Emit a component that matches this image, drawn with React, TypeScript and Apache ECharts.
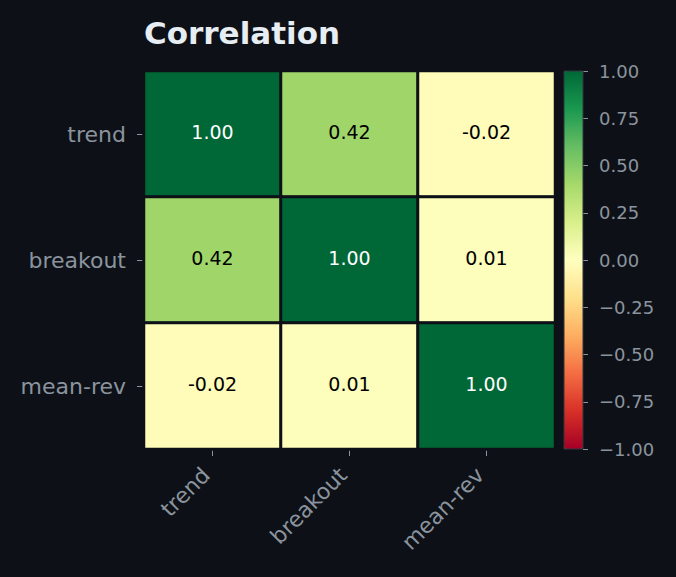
import React, { useEffect, useRef } from "react";
import * as echarts from "echarts";

const strategies = ["trend", "breakout", "mean-rev"];
const corrTrend = [1.0, 0.42, -0.02];
const corrBreakout = [0.42, 1.0, 0.01];
const corrMeanRev = [-0.02, 0.01, 1.0];
const colorbarMin = -1;
const colorbarMax = 1;
const colorbarStep = 0.25;
const rdYlGn = [
  "#a50026", "#d73027", "#f46d43", "#fdae61", "#fee08b", "#ffffbf",
  "#d9ef8b", "#a6d96a", "#66bd63", "#1a9850", "#006837",
];

const BG = "#0d1117";
const FONT = "DejaVu Sans";

export default function App() {
  const ref = useRef<HTMLDivElement>(null);
  useEffect(() => {
    if (!ref.current) return;
    const chart = echarts.init(ref.current, undefined, { renderer: "svg" });
    const rows = [corrTrend, corrBreakout, corrMeanRev];
    const data: any[] = [];
    rows.forEach((row, yi) => {
      row.forEach((v, xi) => {
        data.push({
          value: [xi, yi, v],
          label: { color: Math.abs(v) > 0.6 ? "#ffffff" : "#000000" },
        });
      });
    });
    chart.setOption({
      animation: false,
      backgroundColor: BG,
      textStyle: { fontFamily: FONT },
      title: {
        text: "Correlation",
        left: 144,
        top: 17,
        padding: 0,
        textStyle: { color: "#e6edf3", fontSize: 31, fontWeight: "bold", fontFamily: FONT },
      },
      grid: [
        { left: 144, top: 71, width: 411, height: 378, show: false },
        { left: 564, top: 71, width: 19, height: 378, show: true, borderColor: "#30363d", borderWidth: 1, backgroundColor: "transparent", z: 5 },
      ],
      xAxis: [
        {
          type: "category",
          gridIndex: 0,
          data: strategies,
          axisLine: { show: true, lineStyle: { color: "#30363d", width: 1 } },
          axisTick: { show: true, alignWithLabel: true, length: 7, lineStyle: { color: "#8b949e" } },
          axisLabel: { rotate: 45, fontSize: 22, color: "#8b949e", margin: 16, padding: [0, 9, 0, 0], fontFamily: FONT },
          splitLine: { show: false },
        },
        { type: "category", gridIndex: 1, data: [""], show: false },
      ],
      yAxis: [
        {
          type: "category",
          gridIndex: 0,
          data: strategies,
          inverse: true,
          axisLine: { show: true, lineStyle: { color: "#30363d", width: 1 } },
          axisTick: { show: true, alignWithLabel: true, length: 7, lineStyle: { color: "#8b949e" } },
          axisLabel: { fontSize: 22, color: "#8b949e", margin: 18, fontFamily: FONT },
          splitLine: { show: false },
        },
        {
          type: "value",
          gridIndex: 1,
          position: "right",
          min: colorbarMin,
          max: colorbarMax,
          interval: colorbarStep,
          axisLine: { show: false },
          axisTick: { show: true, length: 5, lineStyle: { color: "#8b949e" } },
          axisLabel: {
            fontSize: 18,
            color: "#8b949e",
            margin: 16,
            fontFamily: FONT,
            formatter: (v: number) => (v < 0 ? "\u2212" : "") + Math.abs(v).toFixed(2),
          },
          splitLine: { show: false },
        },
      ],
      visualMap: {
        type: "continuous",
        min: colorbarMin,
        max: colorbarMax,
        seriesIndex: 0,
        show: true,
        calculable: false,
        orient: "vertical",
        left: 564,
        top: 71,
        itemWidth: 19,
        itemHeight: 378,
        padding: 0,
        showLabel: false,
        text: null,
        inRange: { color: rdYlGn },
      },
      series: [
        {
          type: "heatmap",
          xAxisIndex: 0,
          yAxisIndex: 0,
          data,
          itemStyle: { borderColor: BG, borderWidth: 3 },
          label: {
            show: true,
            fontSize: 19,
            fontFamily: FONT,
            offset: [0, -2],
            formatter: (p: any) => p.value[2].toFixed(2),
          },
          emphasis: { disabled: true },
        },
      ],
    });
    return () => chart.dispose();
  }, []);
  return <div ref={ref} style={{ position: "absolute", left: 0, top: 0, width: 676, height: 577 }} />;
}
